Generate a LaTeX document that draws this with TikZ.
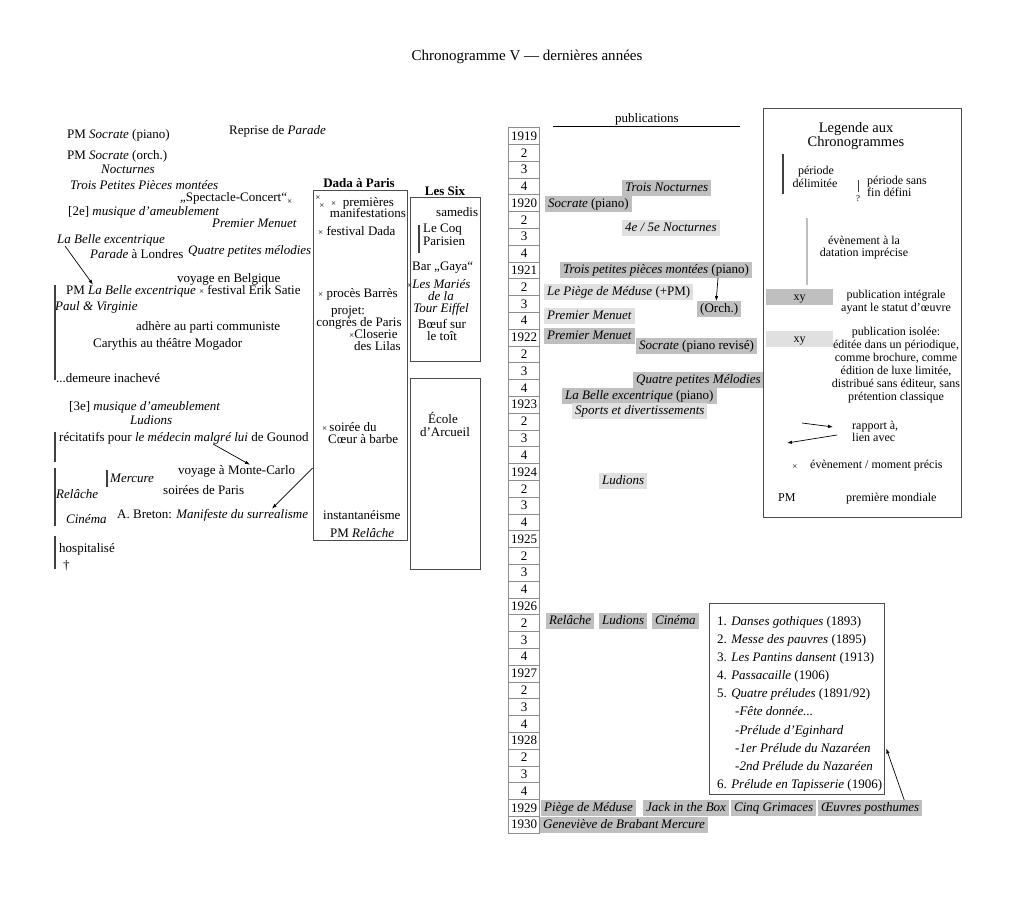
\documentclass[tikz,border=0pt]{standalone}
\usepackage{fontspec}
\setmainfont{Liberation Serif}
\usetikzlibrary{positioning,arrows.meta}

\definecolor{pubdark}{gray}{0.75}
\definecolor{publight}{gray}{0.88}
\newcommand{\ev}{{\fontsize{9}{9}\selectfont ×}}

\begin{document}
\begin{tikzpicture}[x=1pt,y=-1pt,
  every node/.style={font=\fontsize{13}{13}\selectfont, inner sep=0pt},
  txt/.style={anchor=base west},
  ctr/.style={anchor=base},
  rtxt/.style={anchor=base east},
  leg/.style={font=\fontsize{12}{12}\selectfont},
  frame/.style={draw=black!70, line width=0.6pt, inner sep=0pt},
  bar/.style={line width=1.1pt, draw=black!75},
  pub/.style={anchor=west, inner xsep=3pt, inner ysep=1.5pt, text height=9.5pt, text depth=3pt},
  pubA/.style={pub, fill=pubdark},
  pubB/.style={pub, fill=publight},
  yearcell/.style={draw=black!45, line width=0.5pt, minimum width=31pt, minimum height=16.8pt},
  link/.style={-{Latex[length=5pt,width=3.5pt]}, line width=0.7pt}]
\useasboundingbox (0,0) rectangle (1024,913);

\node[ctr, font=\fontsize{15}{15}\selectfont] (title) at (527,60) {Chronogramme V — dernières années};

% left column
\node[txt] (pmSocP) at (67,138) {PM \textit{Socrate} (piano)};
\node[txt] (repParade) at (229,134) {Reprise de \textit{Parade}};
\node[txt] (pmSocO) at (67,159) {PM \textit{Socrate} (orch.)};
\node[txt] (noct) at (101,173) {\textit{Nocturnes}};
\node[txt] (tppm) at (70,189) {\textit{Trois Petites Pièces montées}};
\node[txt] (specConc) at (180,201) {„Spectacle-Concert“\raisebox{-3pt}{\ev}};
\node[txt] (ameub2) at (68,215) {[2e] \textit{musique d’ameublement}};
\node[txt] (premMen) at (212,227) {\textit{Premier Menuet}};
\node[txt] (belleExc) at (57,243) {\textit{La Belle excentrique}};
\node[txt] (paradeLdn) at (90,258) {\textit{Parade} à Londres};
\node[txt] (quatreMel) at (188,254) {\textit{Quatre petites mélodies}};
\node[txt] (voyBelg) at (177,282) {voyage en Belgique};
\node[txt] (pmBelle) at (66,294) {PM \textit{La Belle excentrique} \ev\ festival Erik Satie};
\node[txt] (paulVirg) at (55,310) {\textit{Paul \& Virginie}};
\node[txt] (adhere) at (136,330) {adhère au parti communiste};
\node[txt] (carythis) at (93,347) {Carythis au théâtre Mogador};
\node[txt] (demeure) at (56,382) {...demeure inachevé};
\node[txt] (ameub3) at (69,410) {[3e] \textit{musique d’ameublement}};
\node[txt] (ludions) at (130,424) {\textit{Ludions}};
\node[txt] (recit) at (59,441) {récitatifs pour \textit{le médecin malgré lui} de Gounod};
\node[txt] (voyMC) at (178,474) {voyage à Monte-Carlo};
\node[txt] (mercure) at (110,482) {\textit{Mercure}};
\node[txt] (relache) at (56,498) {\textit{Relâche}};
\node[txt] (soirees) at (163,494) {soirées de Paris};
\node[txt] (cinema) at (66,523) {\textit{Cinéma}};
\node[txt] (breton) at (117,518) {A. Breton: \textit{Manifeste du surrealisme}};
\node[txt] (hosp) at (59,552) {hospitalisé};
\node[txt] (dagger) at (63,569) {†};

\draw[bar] (55,285) -- (55,380);
\draw[bar] (55,432) -- (55,462);
\draw[bar] (107,470) -- (107,487);
\draw[bar] (55,468) -- (55,526);
\draw[bar] (55,536) -- (55,569);

\draw[link] ([xshift=8pt]belleExc.south west) -- ([xshift=27pt]pmBelle.north west);
\draw[link] ([xshift=154pt]recit.south west) -- ([xshift=72pt]voyMC.north west);

% Dada a Paris
\node[ctr, font=\bfseries\fontsize{13}{13}\selectfont] (dadaTitle) at (359,187) {Dada à Paris};
\node[frame, minimum width=94pt, minimum height=350pt] (dadaBox) at (360,365) {};
\node[ctr] (evA) at (318,200) {\ev};
\node[ctr] (evB) at (322,208) {\ev};
\node[txt] (premieres) at (331,206) {\ev\ \ premières};
\node[rtxt] (manif) at (406,217) {manifestations};
\node[txt] (festDada) at (318,235) {\ev\ festival Dada};
\node[txt] (proces) at (318,297) {\ev\ procès Barrès};
\node[ctr] (projet) at (348,314) {projet:};
\node[ctr] (congres) at (359,326) {congrès de Paris};
\node[txt] (closerie) at (349,338) {\ev Closerie};
\node[txt] (lilas) at (354,350) {des Lilas};
\node[txt] (soiree) at (322,431) {\ev\,soirée du};
\node[txt] (coeur) at (328,443) {Cœur à barbe};
\node[txt] (instant) at (323,519) {instantanéisme};
\node[txt] (pmRel) at (330,537) {PM \textit{Relâche}};

\draw[link] ([yshift=-103pt]dadaBox.west) -- ([xshift=155pt]breton.north west);

% Les Six
\node[ctr, font=\bfseries\fontsize{13}{13}\selectfont] (sixTitle) at (445,195) {Les Six};
\node[frame, minimum width=70pt, minimum height=164pt] (sixBox) at (445,279) {};
\node[txt] (samedis) at (436,216) {samedis};
\node[txt] (coq) at (423,232) {Le Coq};
\node[txt] (parisien) at (423,245) {Parisien};
\draw[bar] (419,225) -- (419,253);
\node[txt] (gaya) at (412,270) {Bar „Gaya“};
\node[txt] (maries) at (407,288) {\ev\textit{Les Mariés}};
\node[ctr] (dela) at (441,300) {\textit{de la}};
\node[ctr] (eiffel) at (441,312) {\textit{Tour Eiffel}};
\node[ctr] (boeuf) at (442,328) {Bœuf sur};
\node[ctr] (toit) at (442,340) {le toît};

% Ecole d'Arcueil
\node[frame, minimum width=70pt, minimum height=191pt] (arcBox) at (445,473.5) {};
\node[ctr] (ecole) at (443,423) {École};
\node[ctr] (arcueil) at (445,436) {d’Arcueil};

% years
\foreach \lab [count=\i] in {1919,2,3,4,1920,2,3,4,1921,2,3,4,1922,2,3,4,1923,2,3,4,1924,2,3,4,1925,2,3,4,1926,2,3,4,1927,2,3,4,1928,2,3,4,1929,1930}
  \node[yearcell] (yr\i) at (524,{127.5+16.8*(\i-0.5)}) {\lab};

% publications
\node[ctr] (pubTitle) at (647,122) {publications};
\draw[line width=0.8pt] (553,126) -- (740,126);
\node[pubA] (trNoct) at (622,188) {\textit{Trois Nocturnes}};
\node[pubA] (socP) at (545,204) {\textit{Socrate} (piano)};
\node[pubB] (noct45) at (622,228) {\textit{4e / 5e Nocturnes}};
\node[pubA] (tppP) at (560,270) {\textit{Trois petites pièces montées} (piano)};
\node[pubB] (piege) at (544,292) {\textit{Le Piège de Méduse} (+PM)};
\node[pubA] (orch) at (697,309) {(Orch.)};
\node[pubB] (premMenA) at (544,316) {\textit{Premier Menuet}};
\node[pubA] (premMenB) at (544,336) {\textit{Premier Menuet}};
\node[pubA] (socRev) at (636,346) {\textit{Socrate} (piano revisé)};
\node[pubA] (quatreMelP) at (633,380) {\textit{Quatre petites Mélodies}};
\node[pubA] (belleP) at (562,396) {\textit{La Belle excentrique} (piano)};
\node[pubB] (sports) at (572,411) {\textit{Sports et divertissements}};
\node[pubB] (ludP) at (599,481) {\textit{Ludions}};
\node[pubA] (relP) at (546,621) {\textit{Relâche}};
\node[pubA] (ludP2) at (599,621) {\textit{Ludions}};
\node[pubA] (cinP) at (652,621) {\textit{Cinéma}};
\node[pubA] (piegeP) at (541,808) {\textit{Piège de Méduse}};
\node[pubA] (jackP) at (643,808) {\textit{Jack in the Box}};
\node[pubA] (cinqP) at (731,808) {\textit{Cinq Grimaces}};
\node[pubA] (oeuvP) at (818,808) {\textit{Œuvres posthumes}};
\node[pubA] (genP) at (540,825) {\textit{Geneviève de Brabant}};
\node[pubA] (merP) at (658,825) {\textit{Mercure}};

\draw[link] ([xshift=158pt]tppP.south west) -- ([xshift=-3pt]orch.north);

% oeuvres posthumes
\node[frame, minimum width=175pt, minimum height=191pt] (postBox) at (796.5,698.5) {};
\node[txt] (op1) at (717,625) {1. \textit{Danses gothiques} (1893)};
\node[txt] (op2) at (717,643) {2. \textit{Messe des pauvres} (1895)};
\node[txt] (op3) at (717,661) {3. \textit{Les Pantins dansent} (1913)};
\node[txt] (op4) at (717,679) {4. \textit{Passacaille} (1906)};
\node[txt] (op5) at (717,697) {5. \textit{Quatre préludes} (1891/92)};
\node[txt] (op5a) at (735,715) {\textit{-Fête donnée...}};
\node[txt] (op5b) at (735,734) {\textit{-Prélude d’Eginhard}};
\node[txt] (op5c) at (735,752) {\textit{-1er Prélude du Nazaréen}};
\node[txt] (op5d) at (735,770) {\textit{-2nd Prélude du Nazaréen}};
\node[txt] (op6) at (717,788) {6. \textit{Prélude en Tapisserie} (1906)};

\draw[link] ([xshift=34pt]oeuvP.north) -- ([xshift=2pt,yshift=-50pt]postBox.east);

% legende
\node[frame, minimum width=198pt, minimum height=409pt] (legBox) at (862,312.5) {};
\node[ctr, font=\fontsize{14.5}{14.5}\selectfont] (legT1) at (856,132) {Legende aux};
\node[ctr, font=\fontsize{14.5}{14.5}\selectfont] (legT2) at (856,146) {Chronogrammes};
\draw[bar] (783,154) -- (783,194);
\node[ctr, leg] (perA) at (816,174) {période};
\node[ctr, leg] (perB) at (815,187) {délimitée};
\draw[bar, line width=0.9pt] (858,180) -- (858,192);
\node[ctr, font=\fontsize{9}{9}\selectfont] (quest) at (858,201) {?};
\node[txt, leg] (sansA) at (867,184) {période sans};
\node[txt, leg] (sansB) at (867,196) {fin défini};
\draw[line width=1.6pt, draw=black!25] (807,218) -- (807,285);
\node[ctr, leg] (impA) at (864,244) {évènement à la};
\node[ctr, leg] (impB) at (864,256) {datation imprécise};
\node[pubA, minimum width=67pt, leg] (xyA) at (766,297) {xy};
\node[ctr, leg] (integA) at (896,298) {publication intégrale};
\node[ctr, leg] (integB) at (896,311) {ayant le statut d’œuvre};
\node[pubB, minimum width=67pt, leg] (xyB) at (766,339) {xy};
\node[ctr, leg] (isoA) at (896,335) {publication isolée:};
\node[ctr, leg] (isoB) at (896,348) {éditée dans un périodique,};
\node[ctr, leg] (isoC) at (896,361) {comme brochure, comme};
\node[ctr, leg] (isoD) at (896,374) {édition de luxe limitée,};
\node[ctr, leg] (isoE) at (896,387) {distribué sans éditeur, sans};
\node[ctr, leg] (isoF) at (896,400) {prétention classique};
\coordinate (rapA) at (802,423);
\coordinate (rapB) at (833,427);
\coordinate (lienA) at (837,435);
\coordinate (lienB) at (787,443);
\draw[link] (rapA) -- (rapB);
\draw[link] (lienA) -- (lienB);
\node[txt, leg] (rapport) at (852,429) {rapport à,};
\node[txt, leg] (lien) at (852,441) {lien avec};
\node[ctr] (evLeg) at (795,469) {\ev};
\node[txt, leg] (evTxt) at (810,468) {évènement / moment précis};
\node[txt, leg] (pmLeg) at (778,501) {PM};
\node[txt, leg] (pmTxt) at (846,501) {première mondiale};
\end{tikzpicture}
\end{document}
